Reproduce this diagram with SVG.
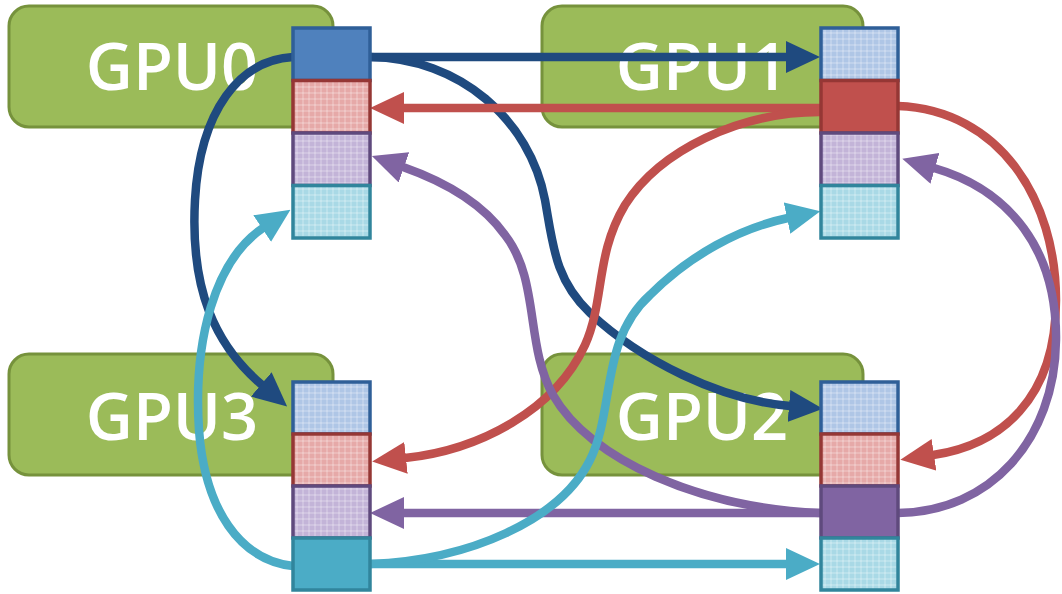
<svg xmlns="http://www.w3.org/2000/svg" width="1062" height="594" viewBox="0 0 1062 594">
<style>
.gpu{fill:#9bbb59;stroke:#76923c;stroke-width:3}
.lbl{font-family:"Open Sans","Liberation Sans",sans-serif;font-weight:600;font-size:65px;fill:#ffffff;text-anchor:middle}
.cb{stroke:#2f5f98;stroke-width:3.5}
.cr{stroke:#953735;stroke-width:3.5}
.cp{stroke:#5f4a7d;stroke-width:3.5}
.cc{stroke:#31859c;stroke-width:3.5}
.a{fill:none;stroke-width:8.5}
.ab{stroke:#1f4a7f;marker-end:url(#mb)}
.ar{stroke:#c0504d;marker-end:url(#mr)}
.ap{stroke:#8064a2;marker-end:url(#mp)}
.ac{stroke:#4bacc6;marker-end:url(#mc)}
</style>
<defs>
<pattern id="tb" width="6" height="6" patternUnits="userSpaceOnUse"><rect width="6" height="6" fill="#afc6e6"/><path d="M0,3H6M3,0V6" stroke="#ffffff" stroke-opacity="0.4" stroke-width="1"/></pattern>
<pattern id="tr" width="6" height="6" patternUnits="userSpaceOnUse"><rect width="6" height="6" fill="#e6a9a8"/><path d="M0,3H6M3,0V6" stroke="#ffffff" stroke-opacity="0.4" stroke-width="1"/></pattern>
<pattern id="tp" width="6" height="6" patternUnits="userSpaceOnUse"><rect width="6" height="6" fill="#c3b4d8"/><path d="M0,3H6M3,0V6" stroke="#ffffff" stroke-opacity="0.4" stroke-width="1"/></pattern>
<pattern id="tc" width="6" height="6" patternUnits="userSpaceOnUse"><rect width="6" height="6" fill="#a9d9e6"/><path d="M0,3H6M3,0V6" stroke="#ffffff" stroke-opacity="0.4" stroke-width="1"/></pattern>
<marker id="mb" viewBox="0 0 34 32" refX="1" refY="16" markerWidth="34" markerHeight="32" markerUnits="userSpaceOnUse" orient="auto"><path d="M0,0L34,16L0,32z" fill="#1f4a7f"/></marker>
<marker id="mr" viewBox="0 0 34 32" refX="1" refY="16" markerWidth="34" markerHeight="32" markerUnits="userSpaceOnUse" orient="auto"><path d="M0,0L34,16L0,32z" fill="#c0504d"/></marker>
<marker id="mp" viewBox="0 0 34 32" refX="1" refY="16" markerWidth="34" markerHeight="32" markerUnits="userSpaceOnUse" orient="auto"><path d="M0,0L34,16L0,32z" fill="#8064a2"/></marker>
<marker id="mc" viewBox="0 0 34 32" refX="1" refY="16" markerWidth="34" markerHeight="32" markerUnits="userSpaceOnUse" orient="auto"><path d="M0,0L34,16L0,32z" fill="#4bacc6"/></marker>
</defs>
<rect width="1062" height="594" fill="#ffffff"/>
<g id="gpu0"><rect class="gpu" x="9" y="6" width="324" height="121" rx="20"/><text class="lbl" x="172" y="90">GPU0</text></g>
<g id="gpu1"><rect class="gpu" x="542" y="6" width="321" height="121" rx="20"/><text class="lbl" x="702" y="90">GPU1</text></g>
<g id="gpu3"><rect class="gpu" x="9" y="354" width="324" height="121" rx="20"/><text class="lbl" x="172" y="440">GPU3</text></g>
<g id="gpu2"><rect class="gpu" x="542" y="354" width="321" height="121" rx="20"/><text class="lbl" x="702" y="440">GPU2</text></g>
<g id="connectors">
<path class="a ab" d="M370,57L787,57"/>
<path class="a ab" d="M370,57C460,58 530,120 545,200C553,245 555,280 590,313C640,360 720,400 790,406"/>
<path class="a ab" d="M293,57C240,60 200,110 195,200C190,290 215,345 262,385"/>
<path class="a ar" d="M820,108L403,108"/>
<path class="a ar" d="M820,112C740,112 660,150 625,205C595,255 605,300 585,345C555,410 480,450 405,458"/>
<path class="a ar" d="M898,106C1000,110 1056,200 1056,300C1056,400 1000,445 933,455"/>
<path class="a ap" d="M820,513L403,513"/>
<path class="a ap" d="M820,513C700,508 590,460 553,395C525,345 540,280 505,235C480,200 440,180 403,167"/>
<path class="a ap" d="M898,513C990,512 1055,440 1056,340C1057,250 1010,190 934,168"/>
<path class="a ac" d="M370,564L787,564"/>
<path class="a ac" d="M370,564C470,560 560,520 590,460C615,410 600,340 650,295C690,255 740,228 788,218"/>
<path class="a ac" d="M293,566C240,560 205,510 199,430C193,340 215,260 263,228"/>
</g>
<g id="buf0">
<rect class="cb" x="293" y="28" width="77" height="52.5" fill="#4f81bd"/>
<rect class="cr" x="293" y="80.5" width="77" height="52.5" fill="url(#tr)"/>
<rect class="cp" x="293" y="133" width="77" height="52.5" fill="url(#tp)"/>
<rect class="cc" x="293" y="185.5" width="77" height="52.5" fill="url(#tc)"/>
</g>
<g id="buf1">
<rect class="cb" x="821" y="28" width="77" height="52.5" fill="url(#tb)"/>
<rect class="cr" x="821" y="80.5" width="77" height="52.5" fill="#c0504d"/>
<rect class="cp" x="821" y="133" width="77" height="52.5" fill="url(#tp)"/>
<rect class="cc" x="821" y="185.5" width="77" height="52.5" fill="url(#tc)"/>
</g>
<g id="buf3">
<rect class="cb" x="293" y="382" width="77" height="52" fill="url(#tb)"/>
<rect class="cr" x="293" y="434" width="77" height="52" fill="url(#tr)"/>
<rect class="cp" x="293" y="486" width="77" height="52" fill="url(#tp)"/>
<rect class="cc" x="293" y="538" width="77" height="52" fill="#4bacc6"/>
</g>
<g id="buf2">
<rect class="cb" x="821" y="382" width="77" height="52" fill="url(#tb)"/>
<rect class="cr" x="821" y="434" width="77" height="52" fill="url(#tr)"/>
<rect class="cp" x="821" y="486" width="77" height="52" fill="#8064a2"/>
<rect class="cc" x="821" y="538" width="77" height="52" fill="url(#tc)"/>
</g>
</svg>
